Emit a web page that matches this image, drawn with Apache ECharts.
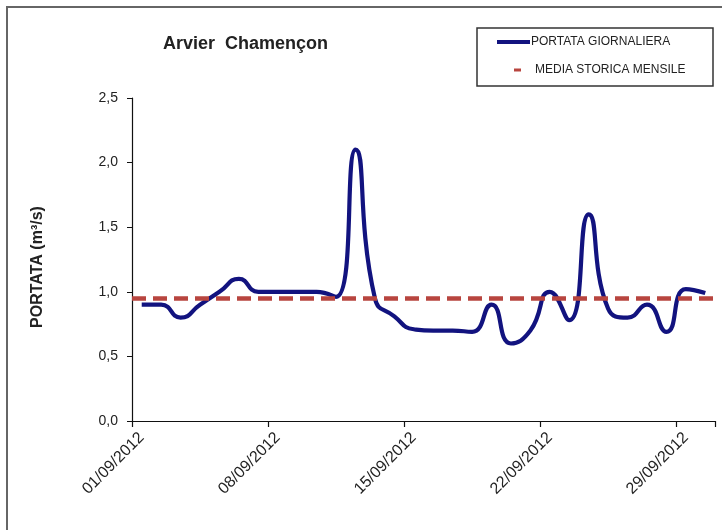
<!DOCTYPE html>
<html>
<head>
<meta charset="utf-8">
<script src="https://cdn.jsdelivr.net/npm/echarts@6/dist/echarts.min.js"></script>
<style>
html,body{margin:0;padding:0;background:#fff;}
#c{width:722px;height:530px;}
</style>
</head>
<body>
<div id="c"></div>
<script>
// ---- data ----
const dates = [
  '01/09/2012','02/09/2012','03/09/2012','04/09/2012','05/09/2012','06/09/2012','07/09/2012',
  '08/09/2012','09/09/2012','10/09/2012','11/09/2012','12/09/2012','13/09/2012','14/09/2012',
  '15/09/2012','16/09/2012','17/09/2012','18/09/2012','19/09/2012','20/09/2012','21/09/2012',
  '22/09/2012','23/09/2012','24/09/2012','25/09/2012','26/09/2012','27/09/2012','28/09/2012',
  '29/09/2012','30/09/2012'
];
const portataGiornaliera = [
  0.90, 0.90, 0.80, 0.90, 1.00, 1.10, 1.00, 1.00, 1.00, 1.00,
  0.96, 2.10, 0.95, 0.81, 0.71, 0.70, 0.70, 0.69, 0.90, 0.60,
  0.70, 1.00, 0.78, 1.60, 0.87, 0.80, 0.90, 0.69, 1.02, 0.99
];
const mediaStoricaMensile = 0.95;
const yTicks = [0, 0.5, 1.0, 1.5, 2.0, 2.5];

const FONT = "'Liberation Sans', Arial, sans-serif";
const chart = echarts.init(document.getElementById('c'));
chart.setOption({
  backgroundColor: '#ffffff',
  animation: false,
  title: {
    text: 'Arvier  Chamençon',
    left: 158, top: 30,
    textStyle: { fontFamily: FONT, fontSize: 18, fontWeight: 'bold', color: '#222' }
  },
  legend: [
    {
      data: ['PORTATA GIORNALIERA'],
      left: 497, top: 36,
      icon: 'rect', itemWidth: 33, itemHeight: 4,
      padding: 0,
      textStyle: { fontFamily: FONT, fontSize: 12, color: '#222', padding: [0,0,0,-4] }
    },
    {
      data: ['MEDIA STORICA MENSILE'],
      left: 514, top: 64,
      icon: 'rect', itemWidth: 7, itemHeight: 3,
      padding: 0,
      textStyle: { fontFamily: FONT, fontSize: 12, color: '#222', padding: [0,0,0,9] }
    }
  ],
  grid: { left: 132, right: 7, top: 98, bottom: 109, containLabel: false },
  xAxis: {
    type: 'category',
    data: dates,
    boundaryGap: true,
    axisLine: { lineStyle: { color: '#111', width: 1.2 } },
    axisTick: { show: true, interval: 6, length: 6, lineStyle: { color: '#111', width: 1.2 } },
    axisLabel: {
      interval: 6, rotate: 45, margin: 14,
      fontFamily: FONT, fontSize: 16, color: '#222'
    },
    splitLine: { show: false }
  },
  yAxis: {
    type: 'value',
    min: yTicks[0], max: yTicks[yTicks.length - 1], interval: 0.5,
    axisLine: { show: true, lineStyle: { color: '#111', width: 1.2 } },
    axisTick: { show: true, length: 5, lineStyle: { color: '#111' } },
    axisLabel: {
      margin: 14, fontFamily: FONT, fontSize: 14, color: '#222',
      formatter: v => v.toFixed(1).replace('.', ',')
    },
    splitLine: { show: false }
  },
  series: [
    {
      name: 'PORTATA GIORNALIERA',
      type: 'line',
      data: portataGiornaliera,
      smooth: 0.55,
      symbol: 'none',
      itemStyle: { color: '#12137f' },
      lineStyle: { color: '#12137f', width: 4.2 },
      z: 3
    },
    {
      name: 'MEDIA STORICA MENSILE',
      type: 'line',
      data: [],
      symbol: 'none',
      itemStyle: { color: '#b8453f' },
      lineStyle: { color: '#b8453f' },
      markLine: {
        silent: true,
        symbol: ['none', 'none'],
        label: { show: false },
        lineStyle: { color: '#b8453f', width: 4.5, type: [14, 7] },
        data: [{ yAxis: mediaStoricaMensile }]
      },
      z: 4
    }
  ],
  graphic: [
    {
      type: 'rect', silent: true,
      shape: { x: 7, y: 7, width: 800, height: 600 },
      style: { fill: 'none', stroke: '#666', lineWidth: 2 }
    },
    {
      type: 'rect', silent: true,
      shape: { x: 477, y: 28, width: 236, height: 58 },
      style: { fill: 'none', stroke: '#333', lineWidth: 1.5 }
    },
    {
      type: 'text', silent: true,
      x: 38, y: 267, rotation: Math.PI / 2,
      style: {
        text: 'PORTATA (m³/s)',
        font: "bold 16px 'Liberation Sans', Arial, sans-serif",
        fill: '#222', align: 'center', verticalAlign: 'middle'
      }
    }
  ]
});
</script>
</body>
</html>
